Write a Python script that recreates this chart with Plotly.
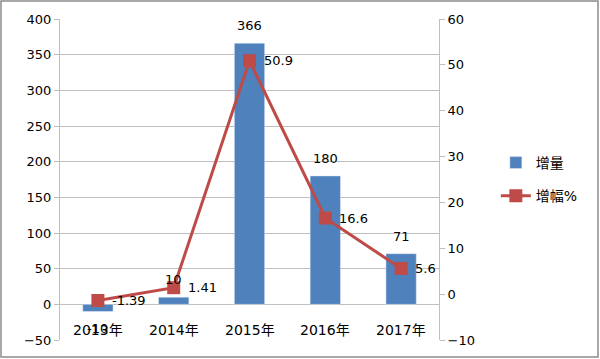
import plotly.graph_objects as go

categories = ["2013年", "2014年", "2015年", "2016年", "2017年"]
increase = [-10, 10, 366, 180, 71]
growth_pct = [-1.39, 1.41, 50.9, 16.6, 5.6]
left_ticks = [-50, 0, 50, 100, 150, 200, 250, 300, 350, 400]
right_ticks = [-10, 0, 10, 20, 30, 40, 50, 60]

FONT = "DejaVu Sans, Noto Sans CJK SC"
BLUE = "#4F81BD"
RED = "#BE4B48"
GRID = "#BFBFBF"

fig = go.Figure()
fig.add_trace(go.Bar(
    x=categories, y=increase, name="增量", marker_color=BLUE, width=0.4,
    yaxis="y", legendgroup="a"))
fig.add_trace(go.Scatter(
    x=categories, y=growth_pct, name="增幅%", mode="lines+markers",
    line=dict(color=RED, width=3), marker=dict(symbol="square", size=13, color=RED),
    cliponaxis=False, yaxis="y2", legendgroup="b"))

# category labels next to the zero line
for c in categories:
    fig.add_annotation(x=c, y=0, xref="x", yref="y", text=c, showarrow=False,
                       yanchor="top", yshift=-16, font=dict(size=14, color="#000"))
# bar value labels
for c, v in zip(categories, increase):
    fig.add_annotation(x=c, y=v, xref="x", yref="y", text=str(v), showarrow=False,
                       yanchor="bottom" if v >= 0 else "top",
                       yshift=8 if v >= 0 else -8, font=dict(size=13, color="#000"))
# line value labels
for c, v in zip(categories, growth_pct):
    fig.add_annotation(x=c, y=v, xref="x", yref="y2", text=str(v), showarrow=False,
                       xanchor="left", xshift=12, font=dict(size=13, color="#000"))

fig.update_layout(
    width=600, height=359, margin=dict(l=60, r=161, t=19, b=19),
    paper_bgcolor="white", plot_bgcolor="white",
    font=dict(family=FONT, size=13, color="#000"),
    showlegend=True,
    xaxis=dict(showticklabels=False, showgrid=False, showline=False, ticks=""),
    yaxis=dict(range=[-50, 400], tickvals=left_ticks, showgrid=True, gridcolor=GRID,
               zeroline=True, zerolinecolor=GRID, zerolinewidth=1,
               showline=True, linecolor=GRID, ticks="outside", ticklen=5,
               tickcolor=GRID, tickfont=dict(size=13)),
    yaxis2=dict(range=[-10, 60], tickvals=right_ticks, overlaying="y", side="right",
                showgrid=False, zeroline=False, showline=True, linecolor=GRID,
                ticks="outside", ticklen=5, tickcolor=GRID, tickfont=dict(size=13)),
    legend=dict(x=1.15, y=0.5, yanchor="middle", xanchor="left",
                font=dict(size=14), traceorder="grouped", tracegroupgap=12),
    shapes=[dict(type="rect", xref="paper", yref="paper",
                 x0=(1 - 60) / 379, x1=(598 - 60) / 379,
                 y0=(340 - 357) / 321, y1=(340 - 1) / 321,
                 line=dict(color="#8C8C8C", width=1.5), fillcolor="rgba(0,0,0,0)",
                 layer="below")],
)

fig.write_html("out.html", config={"displayModeBar": False},
               post_script="document.body.style.margin='0';")
